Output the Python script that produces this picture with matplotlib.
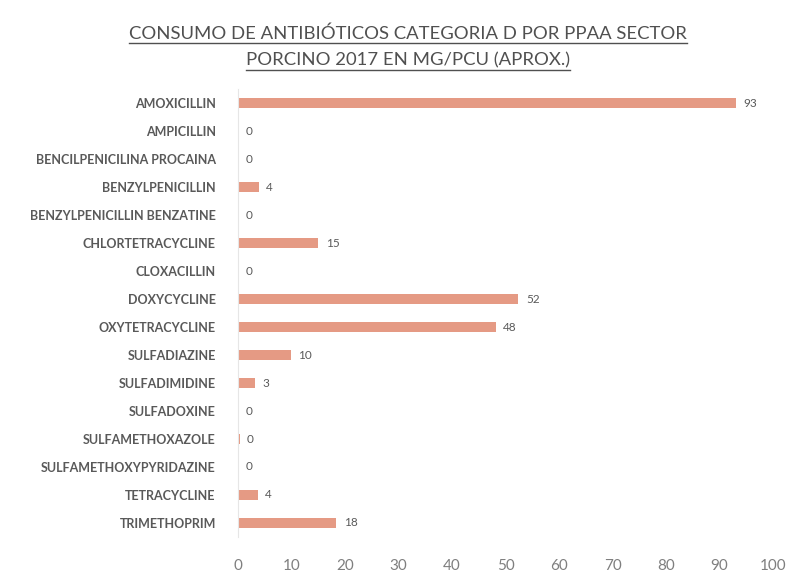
import matplotlib.pyplot as plt
from matplotlib.lines import Line2D

plt.rcParams['font.family'] = ['Lato', 'DejaVu Sans']

TITLE_1 = "CONSUMO DE ANTIBIÓTICOS CATEGORIA D POR PPAA SECTOR"
TITLE_2 = "PORCINO 2017 EN MG/PCU (APROX.)"

antibiotics = [
    "AMOXICILLIN", "AMPICILLIN", "BENCILPENICILINA PROCAINA", "BENZYLPENICILLIN",
    "BENZYLPENICILLIN BENZATINE", "CHLORTETRACYCLINE", "CLOXACILLIN", "DOXYCYCLINE",
    "OXYTETRACYCLINE", "SULFADIAZINE", "SULFADIMIDINE", "SULFADOXINE",
    "SULFAMETHOXAZOLE", "SULFAMETHOXYPYRIDAZINE", "TETRACYCLINE", "TRIMETHOPRIM",
]
mg_pcu = [93, 0, 0, 3.9, 0, 15, 0, 52.4, 48.2, 9.9, 3.2, 0, 0.3, 0, 3.7, 18.4]
x_ticks = [0, 10, 20, 30, 40, 50, 60, 70, 80, 90, 100]

BAR_COLOR = "#e59a84"
TEXT_COLOR = "#595959"

fig = plt.figure(figsize=(7.97, 5.84), dpi=100)
ax = fig.add_axes([0.2986, 0.0805, 0.6714, 0.767])

ypos = list(range(len(antibiotics)))
ax.barh(ypos, mg_pcu, height=0.33, color=BAR_COLOR)
for y, v in zip(ypos, mg_pcu):
    ax.text(v + 1.4, y, f"{v:.0f}", va="center", ha="left", fontsize=8.5, color=TEXT_COLOR)

ax.set_ylim(len(antibiotics) - 0.5, -0.5)
ax.set_xlim(0, 100)
ax.set_yticks(ypos)
ax.set_yticklabels(antibiotics, fontsize=9, fontweight="bold", color=TEXT_COLOR)
ax.set_xticks(x_ticks)
ax.set_xticklabels([str(t) for t in x_ticks], fontsize=11, color="#7f7f7f")
ax.tick_params(axis="both", length=0)
ax.tick_params(axis="y", pad=16)
ax.tick_params(axis="x", pad=16)
for s in ["top", "right", "bottom"]:
    ax.spines[s].set_visible(False)
ax.spines["left"].set_color("#e6e6e6")

# title, underlined line by line
t1 = fig.text(0.512, 0.943, TITLE_1, ha="center", va="center", fontsize=13.3, color="#505050")
t2 = fig.text(0.512, 0.896, TITLE_2, ha="center", va="center", fontsize=13.3, color="#505050")
fig.canvas.draw()
r = fig.canvas.get_renderer()
inv = fig.transFigure.inverted()
for t in (t1, t2):
    bb = t.get_window_extent(r).transformed(inv)
    fig.add_artist(Line2D([bb.x0, bb.x1], [bb.y0 - 0.002, bb.y0 - 0.002],
                          transform=fig.transFigure, color="#505050", lw=1))

fig.savefig("out.png", dpi=100)
